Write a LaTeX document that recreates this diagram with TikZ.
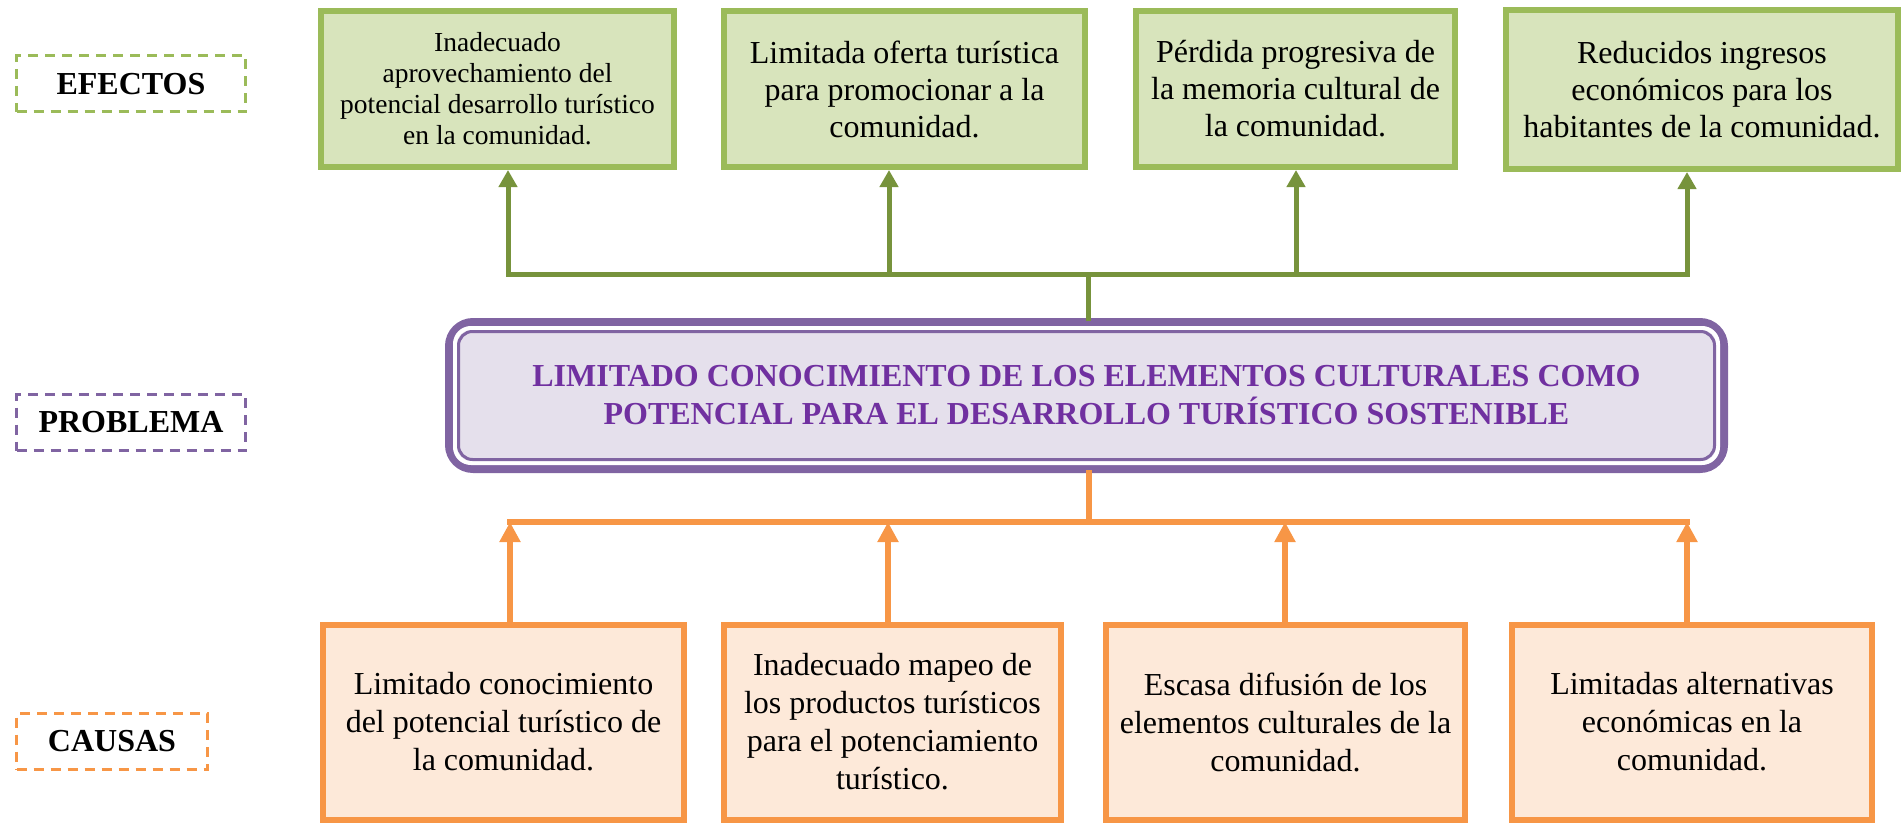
\documentclass[tikz,border=0pt]{standalone}
\usepackage{fontspec}
\setmainfont{Liberation Serif}
\usepackage{xcolor}
\usepackage{tikz}
\usetikzlibrary{shapes,arrows,arrows.meta}
\usetikzlibrary{positioning}
\definecolor{efborde}{HTML}{9BBB59}
\definecolor{effondo}{HTML}{D8E4BC}
\definecolor{eflinea}{HTML}{77933C}
\definecolor{caborde}{HTML}{F79646}
\definecolor{cafondo}{HTML}{FDE9D9}
\definecolor{prborde}{HTML}{8064A2}
\definecolor{prfondo}{HTML}{E5E0EC}
\definecolor{prtexto}{HTML}{7030A0}
\tikzstyle{efecto} = [rectangle, draw=efborde, fill=effondo, line width=6pt,
    align=center, inner sep=0pt, minimum height=156pt, font=\fontsize{32}{37}\selectfont]
\tikzstyle{causa} = [rectangle, draw=caborde, fill=cafondo, line width=6pt,
    align=center, inner sep=0pt, minimum height=195pt, font=\fontsize{32}{38}\selectfont]
\tikzstyle{problema} = [rectangle, rounded corners=24pt, draw=prborde, fill=prfondo,
    line width=8pt, align=center, inner sep=0pt, minimum width=1275pt, minimum height=147pt,
    text=prtexto, font=\bfseries\fontsize{32}{38}\selectfont]
\tikzstyle{etiqueta} = [rectangle, line width=3pt, dash pattern=on 10pt off 7pt,
    minimum height=56pt, inner sep=0pt, font=\bfseries\fontsize{32}{38}\selectfont]
\tikzstyle{gline} = [draw=eflinea, line width=5pt, line cap=rect]
\tikzstyle{garrow} = [draw=eflinea, line width=5pt, -{Triangle[width=18pt,length=17pt]}]
\tikzstyle{oline} = [draw=caborde, line width=6pt, line cap=rect]
\tikzstyle{oarrow} = [draw=caborde, line width=6pt, -{Triangle[width=20pt,length=20pt]}]

\begin{document}
\begin{tikzpicture}[x=1pt,y=1pt,node distance=40pt]
    \useasboundingbox (0,0) rectangle (1904,-824);
    % Place nodes
    \node [etiqueta, draw=efborde, minimum width=229pt] (lefec) at (131,-84) {EFECTOS};
    \node [etiqueta, draw=prborde, minimum width=229pt] (lprob) at (131,-422.5) {PROBLEMA};
    \node [etiqueta, draw=caborde, minimum width=191pt] (lcaus) at (112,-741.5) {CAUSAS};
    \node [efecto, minimum width=353pt, font=\fontsize{27.5}{31}\selectfont] (e1) at (497.5,-89)
        {Inadecuado\\aprovechamiento del\\potencial desarrollo turístico\\en la comunidad.};
    \node [efecto, minimum width=361pt] (e2) at (904.5,-89)
        {Limitada oferta turística\\para promocionar a la\\comunidad.};
    \node [efecto, minimum width=319pt] (e3) at (1295.5,-89)
        {Pérdida progresiva de\\la memoria cultural de\\la comunidad.};
    \node [efecto, minimum width=392pt, minimum height=159pt] (e4) at (1702,-89.5)
        {Reducidos ingresos\\económicos para los\\habitantes de la comunidad.};
    \node [problema] (pr) at (1086.5,-395.5)
        {LIMITADO CONOCIMIENTO DE LOS ELEMENTOS CULTURALES COMO\\POTENCIAL PARA EL DESARROLLO TURÍSTICO SOSTENIBLE};
    \draw [white, line width=4pt, rounded corners=16pt]
        ([shift={(10pt,-10pt)}]pr.north west) rectangle ([shift={(-10pt,10pt)}]pr.south east);
    \draw [prborde, line width=3pt, rounded corners=14pt]
        ([shift={(13.5pt,-13.5pt)}]pr.north west) rectangle ([shift={(-13.5pt,13.5pt)}]pr.south east);
    \node [causa, minimum width=361pt] (ca1) at (503.5,-722)
        {Limitado conocimiento\\del potencial turístico de\\la comunidad.};
    \node [causa, minimum width=337pt] (ca2) at (892.5,-722)
        {Inadecuado mapeo de\\los productos turísticos\\para el potenciamiento\\turístico.};
    \node [causa, minimum width=359pt] (ca3) at (1285.5,-722)
        {Escasa difusión de los\\elementos culturales de la\\comunidad.};
    \node [causa, minimum width=360pt] (ca4) at (1692,-722)
        {Limitadas alternativas\\económicas en la\\comunidad.};
    \coordinate (gb1) at (508,-274);
    \coordinate (gb2) at (889,-274);
    \coordinate (gb3) at (1296,-274);
    \coordinate (gb4) at (1687,-274);
    \coordinate (ob1) at (510,-522);
    \coordinate (ob2) at (888,-522);
    \coordinate (ob3) at (1285,-522);
    \coordinate (ob4) at (1687,-522);
    % Draw edges
    \path [gline] (gb1) -- (gb4);
    \path [gline] ([xshift=1.5pt]pr.north) -- ([xshift=1.5pt]pr.north |- gb1);
    \path [garrow] (gb1) -- (gb1 |- e1.south);
    \path [garrow] (gb2) -- (gb2 |- e2.south);
    \path [garrow] (gb3) -- (gb3 |- e3.south);
    \path [garrow] (gb4) -- (gb4 |- e4.south);
    \path [oline] (ob1) -- (ob4);
    \path [oline] ([xshift=2.5pt]pr.south) -- ([xshift=2.5pt]pr.south |- ob1);
    \path [oarrow] (ob1 |- ca1.north) -- (ob1);
    \path [oarrow] (ob2 |- ca2.north) -- (ob2);
    \path [oarrow] (ob3 |- ca3.north) -- (ob3);
    \path [oarrow] (ob4 |- ca4.north) -- (ob4);
\end{tikzpicture}
\end{document}
